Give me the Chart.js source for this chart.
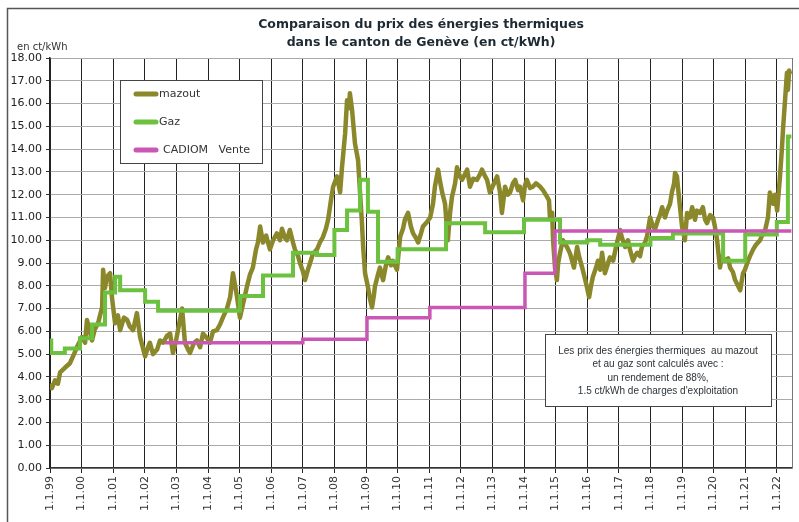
<!DOCTYPE html>
<html>
<head>
<meta charset="utf-8">
<script src="https://cdn.jsdelivr.net/npm/chart.js@4/dist/chart.umd.min.js"></script>
<style>
  html, body { margin: 0; padding: 0; background: #fff; }
  #wrap { width: 799px; height: 522px; position: relative; }
</style>
</head>
<body>
<div id="wrap"><canvas id="chart-prix"></canvas></div>
<script>
// titre et textes
const titleLines = ['Comparaison du prix des énergies thermiques', 'dans le canton de Genève (en ct/kWh)'];
const unitLabel = 'en ct/kWh';
const noteLines = [
    'Les prix des énergies thermiques  au mazout',
    'et au gaz sont calculés avec :',
    'un rendement de 88%,',
    '1.5 ct/kWh de charges d\'exploitation'
];

// axe x : années (1.1.99 ... 1.1.22)
const yearTicks = [1999, 2000, 2001, 2002, 2003, 2004, 2005, 2006, 2007, 2008, 2009, 2010,
    2011, 2012, 2013, 2014, 2015, 2016, 2017, 2018, 2019, 2020, 2021, 2022];

// mazout (ct/kWh)
const mazoutYears = [1999.00, 1999.06, 1999.16, 1999.25, 1999.32, 1999.47, 1999.63, 1999.76, 1999.85, 2000.01,
    2000.11, 2000.17, 2000.33, 2000.42, 2000.52, 2000.65, 2000.68, 2000.74, 2000.80, 2000.90,
    2000.96, 2001.06, 2001.15, 2001.22, 2001.34, 2001.44, 2001.53, 2001.63, 2001.75, 2001.85,
    2002.01, 2002.10, 2002.16, 2002.26, 2002.39, 2002.48, 2002.58, 2002.70, 2002.80, 2002.89,
    2002.99, 2003.05, 2003.18, 2003.27, 2003.37, 2003.43, 2003.56, 2003.65, 2003.75, 2003.84,
    2003.97, 2004.06, 2004.16, 2004.28, 2004.38, 2004.47, 2004.60, 2004.70, 2004.79, 2004.92,
    2005.01, 2005.14, 2005.23, 2005.33, 2005.42, 2005.52, 2005.58, 2005.65, 2005.74, 2005.84,
    2005.96, 2006.06, 2006.18, 2006.28, 2006.34, 2006.44, 2006.50, 2006.59, 2006.69, 2006.75,
    2006.85, 2006.91, 2007.01, 2007.07, 2007.16, 2007.23, 2007.32, 2007.45, 2007.54, 2007.64,
    2007.73, 2007.80, 2007.89, 2007.96, 2008.08, 2008.18, 2008.24, 2008.34, 2008.40, 2008.46,
    2008.49, 2008.56, 2008.65, 2008.75, 2008.81, 2008.87, 2008.91, 2008.97, 2009.06, 2009.13,
    2009.19, 2009.25, 2009.28, 2009.38, 2009.44, 2009.54, 2009.63, 2009.70, 2009.79, 2009.85,
    2009.98, 2010.08, 2010.17, 2010.23, 2010.33, 2010.42, 2010.49, 2010.58, 2010.65, 2010.74,
    2010.80, 2010.93, 2011.03, 2011.12, 2011.18, 2011.28, 2011.34, 2011.41, 2011.50, 2011.59,
    2011.66, 2011.72, 2011.82, 2011.88, 2011.97, 2012.04, 2012.13, 2012.20, 2012.29, 2012.39,
    2012.51, 2012.61, 2012.67, 2012.77, 2012.83, 2012.92, 2013.02, 2013.15, 2013.24, 2013.30,
    2013.40, 2013.49, 2013.56, 2013.65, 2013.72, 2013.81, 2013.87, 2013.97, 2014.03, 2014.09,
    2014.19, 2014.28, 2014.38, 2014.51, 2014.60, 2014.73, 2014.79, 2014.82, 2014.89, 2014.92,
    2014.98, 2015.04, 2015.08, 2015.14, 2015.23, 2015.36, 2015.46, 2015.52, 2015.58, 2015.68,
    2015.74, 2015.84, 2015.93, 2015.99, 2016.06, 2016.12, 2016.18, 2016.28, 2016.34, 2016.41,
    2016.47, 2016.56, 2016.66, 2016.72, 2016.82, 2016.91, 2017.04, 2017.10, 2017.20, 2017.29,
    2017.35, 2017.45, 2017.51, 2017.58, 2017.67, 2017.73, 2017.83, 2017.89, 2017.99, 2018.08,
    2018.15, 2018.24, 2018.30, 2018.37, 2018.46, 2018.53, 2018.62, 2018.68, 2018.75, 2018.78,
    2018.84, 2018.87, 2018.94, 2019.00, 2019.09, 2019.16, 2019.25, 2019.32, 2019.41, 2019.47,
    2019.57, 2019.66, 2019.73, 2019.79, 2019.89, 2019.98, 2020.04, 2020.11, 2020.20, 2020.27,
    2020.36, 2020.46, 2020.52, 2020.61, 2020.68, 2020.77, 2020.84, 2020.93, 2020.99, 2021.09,
    2021.15, 2021.25, 2021.34, 2021.47, 2021.56, 2021.63, 2021.72, 2021.78, 2021.85, 2021.88,
    2021.94, 2022.01, 2022.10, 2022.16, 2022.20, 2022.26, 2022.32, 2022.35, 2022.39, 2022.42];
const mazoutValues = [3.7, 3.5, 3.85, 3.7, 4.2, 4.4, 4.6, 5.0, 5.3, 5.75,
    5.5, 6.5, 5.6, 6.1, 6.35, 7.07, 8.7, 7.9, 8.4, 8.55,
    7.5, 6.35, 6.7, 6.05, 6.6, 6.5, 6.2, 6.05, 6.8, 5.75,
    4.9, 5.3, 5.5, 5.0, 5.2, 5.6, 5.5, 5.8, 5.9, 5.05,
    5.6, 6.05, 7.0, 5.5, 5.2, 5.05, 5.5, 5.6, 5.3, 5.9,
    5.7, 5.5, 6.0, 6.05, 6.3, 6.6, 7.0, 7.5, 8.55, 7.5,
    6.6, 7.4, 7.95, 8.5, 8.8, 9.6, 9.9, 10.6, 9.9, 10.2,
    9.6, 10.0, 10.3, 10.0, 10.5, 10.1, 10.0, 10.45, 9.9, 9.6,
    9.3, 9.0, 8.6, 8.25, 8.7, 9.0, 9.4, 9.6, 9.9, 10.15,
    10.5, 10.9, 11.75, 12.35, 12.8, 12.1, 13.2, 14.7, 16.15, 15.8,
    16.45, 15.7, 14.25, 13.5, 12.1, 10.8, 9.7, 8.55, 7.95, 7.4,
    7.05, 7.6, 7.95, 8.5, 8.8, 8.25, 8.9, 9.25, 8.9, 9.1,
    8.7, 10.15, 10.5, 10.9, 11.2, 10.6, 10.3, 10.1, 9.9, 10.3,
    10.6, 10.8, 11.0, 11.6, 12.35, 13.1, 12.6, 12.1, 11.6, 10.0,
    11.2, 11.9, 12.5, 13.2, 12.8, 12.65, 12.9, 13.1, 12.35, 12.7,
    12.65, 12.9, 13.1, 12.8, 12.65, 12.1, 12.4, 12.8, 12.1, 11.2,
    12.35, 12.0, 12.1, 12.5, 12.65, 12.2, 12.35, 11.75, 12.4, 12.65,
    12.3, 12.35, 12.5, 12.35, 12.2, 11.9, 11.75, 11.0, 11.2, 10.0,
    8.8, 8.25, 9.0, 9.45, 10.0, 9.7, 9.4, 9.1, 8.8, 9.7,
    9.3, 8.8, 8.3, 7.95, 7.5, 8.0, 8.4, 8.8, 9.1, 8.7,
    9.45, 8.55, 9.0, 9.25, 9.1, 9.7, 10.45, 10.1, 9.7, 10.0,
    9.6, 9.1, 9.3, 9.45, 9.3, 9.7, 9.9, 10.15, 11.0, 10.6,
    10.5, 10.9, 11.1, 11.45, 11.0, 11.3, 11.6, 12.1, 12.5, 12.95,
    12.8, 12.35, 11.4, 10.6, 10.0, 11.2, 11.0, 11.45, 10.9, 11.3,
    11.2, 11.45, 10.9, 10.75, 11.1, 11.0, 10.6, 10.0, 8.8, 9.3,
    9.1, 9.2, 8.8, 8.6, 8.25, 8.0, 7.8, 8.55, 8.7, 9.1,
    9.3, 9.6, 9.8, 10.0, 10.3, 10.45, 11.0, 12.1, 11.8, 11.6,
    12.0, 11.3, 12.8, 14.0, 14.95, 16.15, 17.35, 16.6, 17.45, 17.3];

// gaz : paliers (date de changement, prix)
const gazYears = [1999.00, 1999.04, 1999.47, 1999.95, 2000.33, 2000.74, 2001.06, 2001.22, 2002.01, 2002.42,
    2005.01, 2005.74, 2006.69, 2007.45, 2008.00, 2008.40, 2008.81, 2009.06, 2009.38, 2010.00,
    2011.53, 2012.77, 2014.00, 2015.14, 2016.00, 2016.41, 2018.00, 2018.71, 2020.30, 2021.00,
    2022.00, 2022.35, 2022.46];
const gazValues = [5.6, 5.05, 5.25, 5.7, 6.3, 7.7, 8.4, 7.8, 7.3, 6.9,
    7.55, 8.45, 9.45, 9.35, 10.45, 11.3, 12.65, 11.25, 9.05, 9.6,
    10.75, 10.35, 10.9, 9.9, 10.0, 9.8, 10.1, 10.3, 9.1, 10.25,
    10.8, 14.55, 14.55];

// CADIOM vente : paliers
const cadiomYears = [2002.64, 2007.00, 2009.03, 2011.02, 2014.03, 2014.98, 2022.46];
const cadiomValues = [5.5, 5.65, 6.6, 7.05, 8.55, 10.4, 10.4];

const seriesNames = ['mazout', 'Gaz', 'CADIOM   Vente'];
const seriesColors = ['#8a882a', '#6cc13f', '#c957b3'];

function pts(xs, ys) {
    return xs.map((x, i) => ({ x: x, y: ys[i] }));
}

const FONT = '"DejaVu Sans", Verdana, sans-serif';

const decor = {
    id: 'decor',
    beforeDraw(chart) {
        const ctx = chart.ctx;
        ctx.save();
        ctx.fillStyle = '#fff';
        ctx.fillRect(0, 0, chart.width, chart.height);
        ctx.restore();
    },
    beforeDatasetsDraw(chart) {
        const { ctx, chartArea: a } = chart;
        ctx.save();
        ctx.strokeStyle = '#777';
        ctx.lineWidth = 1;
        ctx.beginPath();
        ctx.moveTo(Math.round(a.right) + 0.5, a.top);
        ctx.lineTo(Math.round(a.right) + 0.5, a.bottom);
        ctx.stroke();
        ctx.restore();
    },
    afterDatasetsDraw(chart) {
        const { ctx, chartArea: a } = chart;
        ctx.save();

        // titre
        const cx = (a.left + a.right) / 2;
        ctx.fillStyle = '#1e2a33';
        ctx.font = 'bold 12.5px ' + FONT;
        ctx.textAlign = 'center';
        ctx.textBaseline = 'middle';
        ctx.fillText(titleLines[0], cx, 25);
        ctx.fillText(titleLines[1], cx, 43);

        // unité
        ctx.font = '10px ' + FONT;
        ctx.textAlign = 'left';
        ctx.fillStyle = '#333';
        ctx.fillText(unitLabel, 17, 47);

        // légende
        ctx.fillStyle = '#fff';
        ctx.fillRect(120, 80, 142, 83);
        ctx.strokeStyle = '#444';
        ctx.lineWidth = 1;
        ctx.strokeRect(120.5, 80.5, 142, 83);
        const ly = [94, 122, 150];
        ctx.font = '11px ' + FONT;
        seriesNames.forEach((name, i) => {
            ctx.strokeStyle = seriesColors[i];
            ctx.lineWidth = 5;
            ctx.lineCap = 'round';
            ctx.beginPath();
            ctx.moveTo(136, ly[i]);
            ctx.lineTo(156, ly[i]);
            ctx.stroke();
            ctx.fillStyle = '#333';
            ctx.fillText(name, i === 2 ? 163 : 159, ly[i]);
        });

        // note
        ctx.fillStyle = '#fff';
        ctx.fillRect(545, 334, 226, 72);
        ctx.strokeStyle = '#444';
        ctx.lineWidth = 1;
        ctx.strokeRect(545.5, 334.5, 226, 72);
        ctx.font = '10px "Liberation Sans", Arial, sans-serif';
        ctx.fillStyle = '#2d3338';
        ctx.textAlign = 'center';
        const ny = [351, 364.5, 378, 391.5];
        noteLines.forEach((t, i) => ctx.fillText(t, 658, ny[i]));

        // cadre
        ctx.strokeStyle = '#555';
        ctx.lineWidth = 1.5;
        ctx.strokeRect(7.5, 8.5, 820, 540);
        ctx.restore();
    }
};

const chartPrix = new Chart(document.getElementById('chart-prix').getContext('2d'), {
    type: 'line',
    data: {
        datasets: [{
            label: seriesNames[0],
            data: pts(mazoutYears, mazoutValues),
            borderColor: seriesColors[0],
            borderWidth: 4.5,
            borderJoinStyle: 'round',
            pointRadius: 0,
            tension: 0,
            order: 3
        }, {
            label: seriesNames[1],
            data: pts(gazYears, gazValues),
            borderColor: seriesColors[1],
            borderWidth: 4,
            stepped: 'before',
            pointRadius: 0,
            order: 2
        }, {
            label: seriesNames[2],
            data: pts(cadiomYears, cadiomValues),
            borderColor: seriesColors[2],
            borderWidth: 3.5,
            stepped: 'before',
            pointRadius: 0,
            order: 1
        }]
    },
    options: {
        responsive: true,
        maintainAspectRatio: false,
        animation: false,
        layout: { padding: { top: 58, right: 7, left: 0, bottom: 0 } },
        plugins: {
            legend: { display: false },
            title: { display: false },
            tooltip: { enabled: false }
        },
        scales: {
            x: {
                type: 'linear',
                min: 1999,
                max: 2022.48,
                afterFit: s => { s.height = 54; },
                afterBuildTicks: s => { s.ticks = yearTicks.map(v => ({ value: v })); },
                ticks: {
                    includeBounds: false,
                    autoSkip: false,
                    minRotation: 90,
                    maxRotation: 90,
                    padding: 3,
                    color: '#333',
                    font: { family: FONT, size: 11 },
                    callback: v => '1.1.' + String(v % 100).padStart(2, '0')
                },
                grid: { color: '#222', lineWidth: 1, tickLength: 5, tickColor: '#222' },
                border: { color: '#333', width: 1.5 }
            },
            y: {
                min: 0,
                max: 18,
                afterFit: s => { s.width = 50; },
                ticks: {
                    stepSize: 1,
                    padding: 4,
                    color: '#222',
                    font: { family: FONT, size: 11 },
                    callback: v => v.toFixed(2)
                },
                grid: { color: '#aaa', lineWidth: 1, tickLength: 4, tickColor: '#333' },
                border: { color: '#222', width: 1.5 }
            }
        }
    },
    plugins: [decor]
});
</script>
</body>
</html>
